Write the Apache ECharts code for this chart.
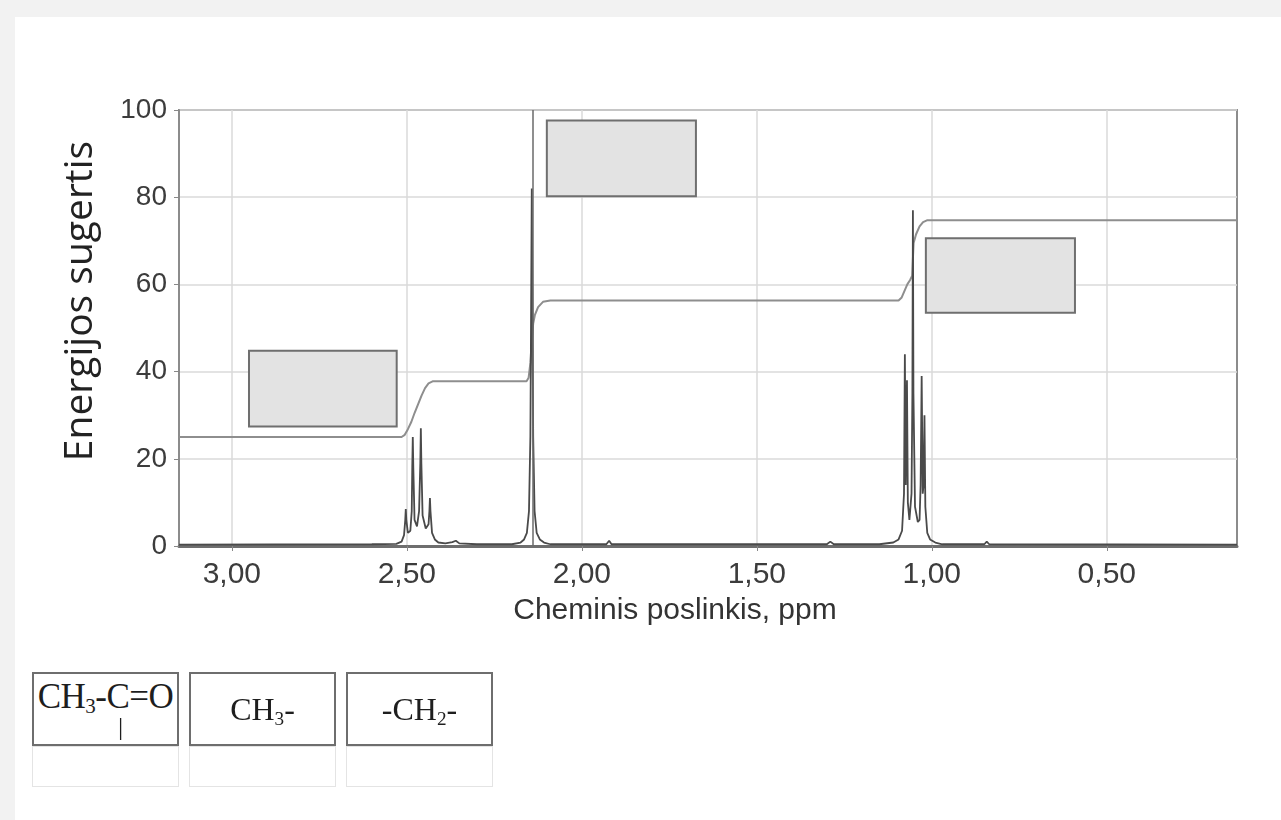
<!DOCTYPE html>
<html>
<head>
<meta charset="utf-8">
<script src="https://cdn.jsdelivr.net/npm/echarts@6.0.0/dist/echarts.min.js"></script>
<style>
  html, body { margin: 0; padding: 0; }
  body { width: 1281px; height: 820px; background: #f2f2f2; position: relative; overflow: hidden; }
  .sheet { position: absolute; left: 15px; top: 17px; right: 0; bottom: 0; background: #fff; }
  #chart { position: absolute; left: 0; top: 0; width: 1281px; height: 820px; }
  .cell { position: absolute; box-sizing: border-box; border: 2px solid #6e6e6e; background: #fff;
          font-family: "Liberation Serif", "Times New Roman", serif; color: #1e1e1e; text-align: center; }
  .cell sub { font-size: 60%; vertical-align: -0.25em; line-height: 0; }
  .blank { position: absolute; box-sizing: border-box; border: 1px solid #e4e4e4; background: #fff; }
</style>
</head>
<body>
<div class="sheet"></div>
<div id="chart"></div>

<div class="cell" style="left:32px;top:672px;width:147px;height:74px;font-size:35px;line-height:34px;padding-top:6px;letter-spacing:-0.5px;">CH<sub>3</sub>-C=O</div>
<div style="position:absolute;left:118px;top:712px;font-family:'Liberation Serif',serif;font-size:26px;color:#1e1e1e;">|</div>
<div class="cell" style="left:189px;top:672px;width:147px;height:74px;font-size:32px;line-height:70px;">CH<sub>3</sub>-</div>
<div class="cell" style="left:346px;top:672px;width:147px;height:74px;font-size:32px;line-height:70px;">-CH<sub>2</sub>-</div>
<div class="blank" style="left:32px;top:746px;width:147px;height:41px;"></div>
<div class="blank" style="left:189px;top:746px;width:147px;height:41px;"></div>
<div class="blank" style="left:346px;top:746px;width:147px;height:41px;"></div>

<script>
// Cheminio poslinkio ašis (ppm), atvirkštinė
const xTicks = [3.0, 2.5, 2.0, 1.5, 1.0, 0.5]
const xMin = 0.128
const xMax = 3.151

// Spektro taškai [ppm, intensyvumas]
const spectrum = [
  [3.151, 0.3], [2.60, 0.4], [2.53, 0.5], [2.515, 1], [2.508, 2.5],
  [2.5045, 6], [2.503, 8.5], [2.5015, 6], [2.497, 3], [2.490, 3.5],
  [2.486, 8], [2.4845, 18], [2.483, 25], [2.4815, 18], [2.478, 6],
  [2.471, 4.5], [2.465, 8], [2.4615, 19], [2.460, 27], [2.4585, 19],
  [2.455, 7], [2.446, 4], [2.438, 5], [2.4355, 8], [2.434, 11],
  [2.4325, 8], [2.428, 3], [2.42, 1.5], [2.41, 0.8], [2.39, 0.6],
  [2.37, 0.9], [2.36, 1.2], [2.35, 0.6], [2.30, 0.4],
  [2.20, 0.4], [2.175, 0.8], [2.165, 1.5], [2.157, 3], [2.151, 8],
  [2.147, 25], [2.1445, 60], [2.143, 82], [2.1415, 60], [2.139, 25],
  [2.135, 8], [2.129, 3], [2.12, 1.5], [2.108, 0.8], [2.09, 0.4],
  [1.93, 0.4], [1.922, 1.2], [1.915, 0.4],
  [1.30, 0.4], [1.29, 1], [1.28, 0.4],
  [1.15, 0.4], [1.11, 0.8], [1.095, 1.5], [1.085, 3.5], [1.0795, 12],
  [1.077, 44], [1.0745, 14], [1.071, 38], [1.0685, 10], [1.064, 6],
  [1.058, 12], [1.0555, 35], [1.054, 77], [1.0525, 35], [1.048, 9],
  [1.040, 5.5], [1.035, 6], [1.032, 14], [1.029, 39], [1.026, 12],
  [1.0235, 14], [1.021, 30], [1.0185, 9], [1.013, 3], [1.005, 1.5],
  [0.99, 0.8], [0.97, 0.4],
  [0.85, 0.4], [0.843, 1], [0.836, 0.4], [0.128, 0.3]
]

// Integralinė kreivė [ppm, vertė]
const integral = [
  [3.151, 25], [2.515, 25], [2.506, 25.5], [2.497, 26.8], [2.487, 28.5],
  [2.478, 30.5], [2.468, 32.5], [2.458, 34.5], [2.448, 36.2], [2.438, 37.3],
  [2.425, 37.8], [2.158, 37.8], [2.152, 38.6], [2.147, 42], [2.143, 47],
  [2.139, 51], [2.134, 53], [2.125, 54.8], [2.111, 56], [2.09, 56.3],
  [1.095, 56.3], [1.086, 57], [1.078, 58.5], [1.07, 60], [1.062, 61],
  [1.056, 62], [1.054, 66], [1.052, 69.5], [1.045, 71.5], [1.035, 73.3],
  [1.025, 74.3], [1.014, 74.7], [0.128, 74.7]
]

// Pilki stačiakampiai atsakymams [ppm nuo, ppm iki, y viršus, y apačia]
const answerBoxes = [
  [2.951, 2.529, 44.8, 27.4],
  [2.100, 1.674, 97.6, 80.2],
  [1.017, 0.591, 70.6, 53.5]
]

const singletLine = 2.143

const fmt = v => v.toFixed(2).replace('.', ',')

const chart = echarts.init(document.getElementById('chart'))

chart.setOption({
  animation: false,
  grid: {
    left: 179,
    right: 44,
    top: 110,
    bottom: 274,
    show: true,
    borderColor: '#8c8c8c',
    borderWidth: 2
  },
  xAxis: {
    type: 'value',
    inverse: true,
    min: xMin,
    max: xMax,
    name: 'Cheminis poslinkis, ppm',
    nameLocation: 'middle',
    nameGap: 50,
    nameTextStyle: {
      fontFamily: 'Liberation Sans, Arial, sans-serif',
      fontSize: 30,
      color: '#333',
      padding: [0, 66, 0, 0]
    },
    axisLine: { lineStyle: { color: '#6e6e6e', width: 3 } },
    axisTick: { show: true, length: 5, customValues: xTicks, lineStyle: { color: '#888' } },
    axisLabel: {
      customValues: xTicks,
      formatter: fmt,
      margin: 14,
      fontFamily: 'Liberation Sans, Arial, sans-serif',
      fontSize: 30,
      color: '#3c3c3c'
    },
    splitLine: { show: true, lineStyle: { color: '#dadada', width: 1.5 } }
  },
  yAxis: {
    type: 'value',
    min: 0,
    max: 100,
    interval: 20,
    name: 'Energijos sugertis',
    nameLocation: 'middle',
    nameGap: 79,
    nameTextStyle: {
      fontFamily: 'Open Sans, Noto Sans, sans-serif',
      fontSize: 39,
      color: '#222',
      padding: [0, 0, 0, 54]
    },
    axisLine: { show: true, lineStyle: { color: '#8c8c8c', width: 2 } },
    axisTick: { show: true, length: 5, lineStyle: { color: '#888' } },
    axisLabel: {
      margin: 12,
      fontFamily: 'Liberation Sans, Arial, sans-serif',
      fontSize: 28,
      color: '#3c3c3c'
    },
    splitLine: { show: true, lineStyle: { color: '#dadada', width: 1.5 } }
  },
  series: [
    {
      name: 'integral',
      type: 'line',
      data: integral,
      showSymbol: false,
      smooth: false,
      lineStyle: { color: '#8e8e8e', width: 2 },
      z: 2
    },
    {
      name: 'spectrum',
      type: 'line',
      data: spectrum,
      showSymbol: false,
      smooth: false,
      lineStyle: { color: '#4a4a4a', width: 1.8 },
      markLine: {
        silent: true,
        symbol: 'none',
        label: { show: false },
        lineStyle: { color: '#6a6a6a', width: 1.5, type: 'solid' },
        data: [{ xAxis: singletLine }]
      },
      z: 3
    },
    {
      name: 'boxes',
      type: 'line',
      data: [],
      markArea: {
        silent: true,
        itemStyle: { color: '#e3e3e3', borderColor: '#6f6f6f', borderWidth: 2 },
        data: answerBoxes.map(b => [{ coord: [b[0], b[2]] }, { coord: [b[1], b[3]] }])
      },
      z: 4
    }
  ]
})
</script>
</body>
</html>
